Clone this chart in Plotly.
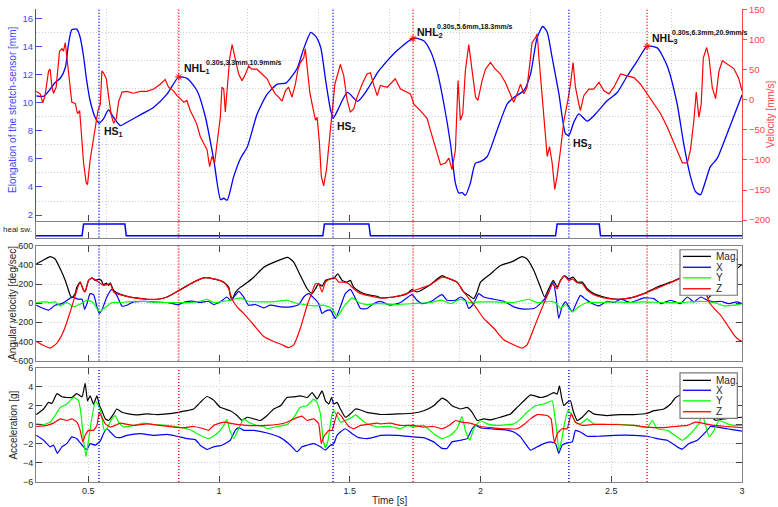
import plotly.graph_objects as go
import numpy as np

# ---------------- data ----------------
t_elong = [0.301,0.329,0.354,0.373,0.393,0.412,0.424,0.437,0.456,0.468,0.481,0.494,0.507,0.526,0.541,0.558,0.577,0.596,0.622,0.648,0.699,0.750,0.801,0.846,0.878,0.916,0.948,0.980,1.006,1.018,1.031,1.056,1.082,1.108,1.146,1.184,1.223,1.255,1.280,1.300,1.325,1.351,1.370,1.389,1.408,1.427,1.437,1.453,1.491,1.530,1.568,1.606,
           1.617,1.681,1.745,1.783,1.809,1.834,1.860,1.885,1.904,1.917,1.930,1.942,1.961,1.980,1.999,2.025,2.063,2.102,2.127,2.165,2.191,2.216,2.238,2.255,2.274,2.300,2.325,2.338,2.357,2.376,2.408,2.446,2.484,2.523,2.561,2.599,2.637,2.676,2.714,2.752,2.777,2.803,2.822,2.841,2.860,2.879,2.905,2.943,2.982,3.000]
elong_mm = [10.48,10.45,10.95,11.43,11.73,12.48,14.12,15.18,15.22,14.7,13.4,11.54,10.13,8.96,8.54,8.84,9.48,8.96,8.37,8.6,9.13,9.67,10.6,11.82,11.72,10.84,8.96,5.91,3.1,3.2,3.06,4.74,6.03,6.85,9.2,10.6,11.31,11.38,11.9,12.48,13.89,14.99,14.7,13.9,11.54,9.43,8.91,9.43,10.72,10.09,10.95,12.13,
            12.4,13.7,14.59,14.4,13.65,12.24,9.9,7.09,4.27,3.57,3.6,3.4,4.27,5.68,5.8,6.15,8.02,9.9,10.37,10.84,12.01,14.59,15.41,15.0,13.19,10.6,7.79,7.67,8.61,9.2,8.68,9.32,10.13,10.72,11.89,12.95,14.0,13.89,12.6,9.9,7.08,4.74,3.68,3.45,4.39,5.45,6.03,7.79,9.67,10.55]

t_vel = [0.301,0.316,0.326,0.335,0.348,0.354,0.361,0.367,0.377,0.390,0.399,0.405,0.412,0.418,0.428,0.437,0.450,0.459,0.467,0.473,0.482,0.492,0.497,0.507,0.518,0.527,0.537,0.546,0.552,0.558,0.569,0.578,0.588,0.597,0.607,0.616,0.629,0.648,0.673,0.699,0.724,0.750,0.775,0.794,0.807,0.826,0.839,0.852,0.865,0.877,0.890,0.903,0.916,0.928,0.941,0.954,0.964,0.973,0.983,0.992,0.999,1.005,1.011,1.018,1.024,1.030,1.041,1.050,1.062,1.075,1.088,1.101,1.113,1.126,1.145,1.171,1.184,1.196,1.215,1.228,1.241,1.254,1.266,1.279,1.292,1.302,1.311,1.324,1.330,1.337,1.347,1.356,1.369,1.375,1.384,1.391,1.400,1.411,1.420,1.432,1.443,1.454,1.464,1.477,1.490,1.502,1.515,1.528,1.547,1.566,1.579,1.592,1.605,
         1.617,1.643,1.674,1.694,1.732,1.745,1.770,1.796,1.808,1.827,1.847,1.866,1.879,1.891,1.904,1.914,1.923,1.932,1.942,1.955,1.968,1.981,1.990,2.006,2.019,2.038,2.057,2.076,2.095,2.115,2.127,2.140,2.153,2.166,2.178,2.189,2.197,2.210,2.217,2.223,2.232,2.242,2.255,2.264,2.274,2.284,2.293,2.306,2.319,2.334,2.344,2.354,2.363,2.376,2.382,2.395,2.414,2.433,2.453,2.472,2.491,2.510,2.536,2.561,2.587,2.612,2.638,2.663,2.689,2.714,2.740,2.759,2.772,2.791,2.803,2.816,2.825,2.835,2.844,2.852,2.865,2.874,2.886,2.899,2.912,2.925,2.944,2.969,2.988,3.000]
vel_mms = [14,10,-5,8,48,51,21,11,21,81,85,81,95,72,26,-4,-6,-23,-18,-61,-105,-138,-141,-100,-72,-45,-18,-7,48,45,35,4.5,-26,-39,-31,-3,13,14,11,14,14,18,26,34,21,15,7,2,-4,-1,-18,-29,-42,-61,-72,-83,-111,-94,-105,-72,-50,-29,21,18,-20,15,70,92,70,43,32,43,56,51,51,40,35,24,10,4.5,-2,15,21,4.5,26,51,62,70,85,54,13,-7,-34,-29,-72,-127,-143,-116,-78,-29,26,43,59,40,-1,-20,-15,4.5,26,43,45,24,7,
           24,21,35,18,10,-7,-18,-31,-50,-78,-108,-105,-97,-116,-83,32,-34,-23,48,92,48,4.5,-1,32,51,62,51,43,29,7,-4,10,26,10,21,62,95,103,110,72,21,-34,-94,-78,-105,-149,-127,-83,-34,-1,26,62,21,-7,-18,7,18,18,29,15,10,21,43,40,37,26,10,-7,-23,-45,-72,-94,-105,-105,-83,-34,13,-29,-7,70,87,70,21,2,48,65,59,52,35,15]

t_heel = [0.300,0.476,0.482,0.640,0.645,1.397,1.403,1.573,1.579,2.287,2.293,2.454,2.459,3.000]
heel_sw = [0,0,1,1,0,0,1,1,0,0,1,1,0,0]

hs_times = [0.541, 1.436, 2.338]
nhl_times = [0.846, 1.742, 2.637]
hs_names = ["HS<sub>1</sub>", "HS<sub>2</sub>", "HS<sub>3</sub>"]
nhl_names = ["NHL<sub>1</sub>", "NHL<sub>2</sub>", "NHL<sub>3</sub>"]
nhl_info = ["0.30s,3.3mm,10.9mm/s", "0.30s,5.6mm,18.3mm/s", "0.30s,6.3mm,20.9mm/s"]

# angular velocity [deg/sec]
t_gm = [0.301,0.329,0.354,0.373,0.393,0.412,0.431,0.437,0.450,0.456,0.469,0.482,0.488,0.501,0.514,0.527,0.539,0.550,0.558,0.569,0.578,0.584,0.597,0.616,0.635,0.660,0.686,0.724,0.763,0.801,0.847,0.903,0.941,0.979,1.018,1.037,1.043,1.050,1.062,1.081,1.101,1.133,1.171,1.209,1.263,1.286,1.311,1.337,1.356,1.369,1.381,1.394,1.407,1.426,1.439,1.454,1.471,1.490,1.502,1.515,1.541,1.566,1.605,
        1.617,1.668,1.719,1.738,1.757,1.808,1.853,1.872,1.910,1.936,1.955,1.974,1.987,2.000,2.038,2.076,2.121,2.159,2.178,2.204,2.229,2.245,2.261,2.278,2.293,2.306,2.321,2.338,2.354,2.370,2.389,2.408,2.433,2.472,2.523,2.574,2.625,2.676,2.727,2.765,2.810,2.842,2.861,2.870,2.886,2.918,2.950,2.976,3.000]
gyro_mag = [410,451,486,462,358,238,82,55,100,168,220,134,124,238,265,238,248,238,193,210,186,213,134,100,82,65,55,41,41,65,134,220,265,255,220,168,80,35,110,165,203,272,376,427,479,427,289,151,100,151,203,179,238,255,262,306,238,220,238,168,117,89,72,
            55,65,100,141,117,193,289,265,220,117,82,48,117,220,306,393,434,486,462,341,169,65,151,238,169,238,289,255,272,220,220,151,100,65,41,55,100,169,220,262,295,250,130,50,100,190,280,350,405]

t_gx = [0.301,0.329,0.348,0.373,0.399,0.425,0.437,0.463,0.476,0.486,0.495,0.507,0.520,0.533,0.542,0.552,0.571,0.590,0.609,0.629,0.648,0.673,0.712,0.750,0.801,0.845,0.871,0.903,0.928,0.960,0.979,1.005,1.030,1.043,1.062,1.075,1.094,1.113,1.139,1.171,1.196,1.235,1.273,1.305,1.324,1.343,1.362,1.381,1.394,1.407,1.426,1.445,1.464,1.483,1.502,1.522,1.541,1.566,1.592,
        1.617,1.655,1.694,1.738,1.757,1.776,1.808,1.853,1.872,1.904,1.923,1.942,1.955,1.974,1.993,2.012,2.051,2.089,2.127,2.166,2.204,2.229,2.255,2.278,2.289,2.299,2.312,2.325,2.338,2.351,2.363,2.382,2.402,2.427,2.453,2.484,2.510,2.536,2.574,2.625,2.663,2.689,2.727,2.765,2.791,2.816,2.842,2.867,2.893,2.918,2.950,2.982,3.000]
gyro_x = [-21,-55,-72,-21,-4,41,65,41,41,-65,-4,100,89,-38,-107,-72,65,144,82,-31,-21,14,20,14,7,-14,14,20,7,20,-14,14,65,31,82,124,65,-21,-14,-48,-21,-38,-38,-14,65,100,55,-4,-107,-83,-72,-159,-38,100,144,48,-55,-55,-4,
          20,-21,7,89,31,-4,14,89,31,31,65,31,-55,-4,100,65,41,20,-38,-62,-55,-4,82,220,65,-159,-38,14,-38,-90,-21,82,41,-4,-28,20,7,41,7,55,48,-4,31,-4,65,14,65,31,14,20,-4,14,-4]

t_gy = [0.301,0.329,0.354,0.373,0.393,0.418,0.444,0.469,0.495,0.514,0.527,0.542,0.552,0.571,0.590,0.622,0.673,0.737,0.801,0.852,0.890,0.928,0.954,0.979,1.005,1.043,1.081,1.113,1.171,1.222,1.260,1.286,1.324,1.362,1.400,1.432,1.451,1.477,1.509,1.534,1.566,1.605,
        1.617,1.681,1.745,1.808,1.853,1.885,1.923,1.955,2.000,2.051,2.127,2.185,2.217,2.268,2.287,2.306,2.325,2.351,2.376,2.408,2.459,2.510,2.561,2.625,2.689,2.765,2.842,2.893,2.931,2.969,3.000]
gyro_y = [7,14,7,14,-28,7,-38,-10,31,14,-28,-90,-72,-31,7,7,20,14,7,7,7,20,41,7,14,31,55,20,14,20,31,7,-14,-28,-21,-55,-141,-38,55,7,-14,-4,
          -4,-14,-4,7,31,-4,41,7,14,14,7,41,7,20,7,-55,-14,-90,-38,7,7,14,7,14,7,7,20,7,-28,-21,-4]

t_gz = [0.301,0.329,0.354,0.380,0.405,0.431,0.450,0.469,0.482,0.488,0.501,0.514,0.539,0.558,0.584,0.597,0.622,0.673,0.724,0.763,0.801,0.847,0.890,0.941,0.979,1.018,1.037,1.050,1.069,1.094,1.133,1.171,1.209,1.241,1.266,1.286,1.311,1.337,1.356,1.369,1.381,1.394,1.407,1.426,1.445,1.458,1.477,1.496,1.515,1.541,1.579,
        1.617,1.668,1.719,1.738,1.808,1.853,1.872,1.910,1.936,1.961,1.981,2.012,2.051,2.089,2.127,2.159,2.178,2.204,2.229,2.245,2.261,2.274,2.293,2.306,2.321,2.338,2.351,2.370,2.389,2.408,2.433,2.472,2.523,2.574,2.625,2.676,2.727,2.765,2.803,2.835,2.854,2.874,2.893,2.918,2.944,2.969,2.988,3.000]
gyro_z = [-401,-442,-469,-417,-297,-90,82,220,134,117,238,262,220,186,203,117,89,55,41,41,65,134,203,265,255,220,151,41,-38,-107,-228,-348,-400,-435,-465,-435,-262,-21,117,203,203,117,220,255,262,220,220,203,151,100,75,
          55,65,100,124,193,272,265,220,117,31,-38,-159,-262,-383,-435,-469,-435,-262,-90,14,117,203,151,238,282,238,255,213,203,134,89,55,41,55,100,158,213,262,290,280,200,14,-55,-124,-228,-331,-383,-400]

# acceleration [g]
t_am = [0.301,0.329,0.348,0.361,0.380,0.399,0.418,0.437,0.456,0.476,0.488,0.497,0.507,0.520,0.533,0.543,0.552,0.565,0.578,0.597,0.609,0.629,0.654,0.686,0.724,0.763,0.801,0.845,0.877,0.903,0.928,0.954,0.979,1.005,1.043,1.069,1.088,1.107,1.133,1.158,1.184,1.209,1.235,1.260,1.286,1.311,1.337,1.356,1.375,1.394,1.407,1.420,1.430,1.439,1.451,1.464,1.483,1.502,1.522,1.541,1.566,1.605,
        1.617,1.681,1.741,1.783,1.821,1.853,1.872,1.891,1.923,1.949,1.968,1.987,2.012,2.038,2.076,2.115,2.140,2.166,2.191,2.229,2.255,2.280,2.293,2.302,2.310,2.319,2.331,2.344,2.354,2.370,2.389,2.414,2.433,2.484,2.536,2.587,2.638,2.663,2.701,2.727,2.746,2.778,2.816,2.848,2.880,2.899,2.931,2.969,3.000]
acc_mag = [1.09,1.68,2.37,2.27,3.3,2.96,2.89,2.89,3.3,2.96,4.38,2.54,3.06,2.2,3.06,2.02,1.5,0.64,0.47,1.16,1.68,1.33,1.16,1.06,1.16,1.09,1.16,1.33,1.5,1.68,2.37,2.99,2.61,1.85,1.5,0.99,0.47,0.81,0.64,0.47,0.99,1.68,2.02,2.89,2.96,3.06,2.89,3.41,2.72,3.58,2.54,2.2,2.89,2.2,2.37,1.68,0.81,1.16,1.68,1.57,1.33,1.16,
           1.1,1.16,1.23,1.5,2.02,2.82,2.54,2.02,1.68,1.85,1.33,0.47,0.64,0.54,0.81,1.16,1.85,2.54,3.17,2.89,3.06,3.41,3.24,4.1,2.89,2.02,2.37,2.54,1.5,0.47,0.81,1.5,1.16,0.99,1.09,1.09,1.23,1.5,1.68,2.2,2.89,3.3,2.6,1.6,0.9,0.5,0.64,0.75,0.81]

t_ax = [0.301,0.329,0.354,0.367,0.382,0.399,0.418,0.437,0.456,0.482,0.495,0.507,0.527,0.546,0.558,0.571,0.584,0.603,0.622,0.648,0.699,0.750,0.801,0.839,0.877,0.909,0.928,0.954,0.979,1.011,1.043,1.062,1.075,1.094,1.133,1.184,1.235,1.273,1.298,1.317,1.337,1.362,1.388,1.407,1.426,1.439,1.451,1.464,1.483,1.509,1.534,1.566,1.605,
        1.617,1.681,1.745,1.783,1.821,1.853,1.872,1.891,1.923,1.949,1.968,1.981,2.000,2.038,2.089,2.127,2.153,2.191,2.217,2.242,2.268,2.287,2.299,2.312,2.331,2.351,2.363,2.382,2.408,2.446,2.510,2.587,2.638,2.676,2.714,2.752,2.771,2.797,2.829,2.861,2.880,2.905,2.944,2.982,3.000]
acc_x = [-1.09,-1.61,-2.3,-2.13,-2.99,-2.3,-1.96,-1.26,-1.44,-2.3,-2.58,-1.96,-2.13,-1.68,-0.92,-0.4,-0.74,-1.26,-1.33,-1.09,-0.92,-1.09,-0.99,-1.19,-1.44,-1.54,-2.13,-2.58,-2.3,-2.13,-1.61,-0.57,-0.29,-0.57,-0.57,-0.85,-1.33,-2.13,-2.82,-2.3,-2.13,-1.96,-2.3,-2.65,-2.13,-1.96,-1.09,-0.74,-0.4,-0.92,-1.33,-1.44,-1.2,
         -1.1,-1.09,-1.26,-1.33,-1.78,-2.47,-2.47,-1.78,-1.61,-1.44,-0.4,-0.05,-0.29,-0.4,-0.5,-0.74,-1.26,-2.65,-2.3,-1.96,-1.78,-1.96,-2.99,-2.13,-1.89,-1.78,-0.57,-0.74,-1.19,-1.19,-1.09,-1.09,-1.19,-1.44,-1.61,-2.3,-2.54,-1.96,-1.61,-0.74,-0.16,-0.22,-0.4,-0.57,-0.64]

t_ay = [0.301,0.329,0.354,0.373,0.393,0.418,0.444,0.463,0.472,0.482,0.491,0.501,0.514,0.527,0.539,0.550,0.561,0.571,0.590,0.603,0.616,0.635,0.673,0.712,0.750,0.801,0.845,0.890,0.928,0.960,0.992,1.018,1.030,1.041,1.056,1.075,1.094,1.113,1.145,1.171,1.184,1.222,1.260,1.286,1.311,1.337,1.362,1.375,1.388,1.398,1.407,1.417,1.430,1.439,1.451,1.464,1.483,1.509,1.522,1.541,1.566,1.605,
        1.617,1.655,1.694,1.719,1.745,1.783,1.821,1.853,1.885,1.910,1.929,1.942,1.959,1.974,2.000,2.025,2.063,2.127,2.153,2.178,2.210,2.242,2.274,2.283,2.293,2.299,2.310,2.321,2.334,2.347,2.363,2.382,2.408,2.433,2.484,2.536,2.587,2.638,2.657,2.676,2.714,2.752,2.771,2.803,2.835,2.848,2.874,2.893,2.912,2.944,2.969,3.000]
acc_y = [0.12,0.05,0.29,0.99,1.85,2.2,2.89,2.54,1.16,-1.61,-3.34,-1.61,0.81,2.47,2.02,1.16,-0.57,-0.4,0.64,0.99,0.29,-0.22,-0.05,0.19,0.05,-0.05,-0.22,-0.5,-1.09,-1.44,-0.92,-0.05,0.6,-0.57,-1.44,-0.4,0.64,0.29,-0.05,-0.16,-0.4,-0.16,0.05,0.81,1.85,2.02,2.72,2.37,1.16,-1.61,-2.4,-1.61,0.81,1.5,0.99,0.29,0.47,0.81,1.06,0.64,0.12,-0.22,
         -0.2,-0.16,-0.4,-0.05,-0.22,-0.05,-0.92,-1.44,-1.09,-0.4,0.88,-0.57,-1.61,-0.4,0.47,0.12,-0.05,0.12,0.64,1.33,2.02,2.2,2.54,1.16,-0.92,-2.65,-1.61,0.12,1.5,1.16,0.29,0.12,0.64,0.12,0.05,0.05,-0.05,-0.29,0.47,-0.4,-0.57,-1.26,-1.61,-0.92,0.12,1.16,-1.26,-0.57,0.47,0.12,-0.05,-0.05]

t_az = [0.301,0.342,0.367,0.393,0.418,0.437,0.456,0.469,0.479,0.488,0.501,0.520,0.533,0.542,0.552,0.565,0.584,0.603,0.622,0.673,0.724,0.775,0.826,0.865,0.903,0.941,0.960,0.979,1.018,1.056,1.107,1.184,1.222,1.260,1.286,1.317,1.337,1.362,1.381,1.391,1.400,1.420,1.432,1.445,1.454,1.471,1.496,1.515,1.541,1.566,1.605,
        1.617,1.655,1.694,1.741,1.783,1.821,1.853,1.885,1.904,1.929,1.961,2.000,2.038,2.089,2.140,2.166,2.191,2.217,2.255,2.270,2.277,2.283,2.293,2.312,2.331,2.347,2.363,2.389,2.433,2.510,2.587,2.638,2.689,2.740,2.791,2.822,2.861,2.893,2.944,3.000]
acc_z = [-0.16,-0.05,0.19,0.64,0.47,0.64,0.29,-0.57,-1.78,-1.09,-0.57,-0.57,-0.05,1.33,0.81,0.12,-0.22,-0.05,0.19,-0.05,0.12,-0.05,-0.22,-0.29,-0.16,-0.4,-0.57,-0.05,0.29,0.12,-0.05,-0.05,0.05,0.29,0.64,0.92,0.47,0.64,0.12,-1.96,-1.26,-0.57,-0.57,0.64,1.33,0.81,-0.16,-0.4,-0.05,0.05,0.19,
         0.12,0.19,-0.05,-0.05,-0.22,-0.16,-0.4,0.05,0.47,0.29,0.19,-0.16,-0.29,-0.4,-0.4,0.05,0.64,1.09,0.99,0.64,-0.92,-1.89,-0.92,-0.4,-0.4,1.16,0.29,-0.05,0.05,0.05,-0.05,-0.22,-0.29,-0.16,-0.05,0.29,0.12,-0.05,-0.16,-0.29]

series_names = ["Mag.", "X", "Y", "Z"]
series_colors = ["#000000", "#0000ff", "#00ff00", "#ff0000"]

# ---------------- figure ----------------
W, H = 778, 507
ML, MR, MT, MB = 36, 36, 4, 25
PW, PH = W - ML - MR, H - MT - MB

def PX(x):
    return (x - ML) / PW

def PY(y):
    return (H - MB - y) / PH

FONT = "Liberation Sans, Arial, sans-serif"
BLUE_T = "rgb(70,70,255)"
RED_T = "rgb(255,70,70)"
GRID = "rgb(205,205,205)"
FRAME = "rgb(130,130,130)"
DOTS = "1px,2px"

fig = go.Figure()

fig.add_trace(go.Scatter(x=t_elong, y=elong_mm, mode="lines", line=dict(color="#0000ff", width=1.3, shape="spline", smoothing=0.6),
                         xaxis="x", yaxis="y", showlegend=False))
fig.add_trace(go.Scatter(x=t_vel, y=vel_mms, mode="lines", line=dict(color="#ff0000", width=1.2),
                         xaxis="x", yaxis="y2", showlegend=False))
nhl_y = np.interp(nhl_times, t_elong, elong_mm)
fig.add_trace(go.Scatter(x=nhl_times, y=nhl_y, mode="markers",
                         marker=dict(symbol="asterisk-open", size=6, color="#ff0000", line=dict(color="#ff0000", width=1)),
                         xaxis="x", yaxis="y", showlegend=False))

fig.add_trace(go.Scatter(x=t_heel, y=heel_sw, mode="lines", line=dict(color="#0000ff", width=1.5),
                         xaxis="x2", yaxis="y3", showlegend=False))

gyro = [(t_gm, gyro_mag), (t_gx, gyro_x), (t_gy, gyro_y), (t_gz, gyro_z)]
for (tt, vv), c in zip(gyro, series_colors):
    fig.add_trace(go.Scatter(x=tt, y=vv, mode="lines", line=dict(color=c, width=1.2, shape="spline", smoothing=0.5),
                             xaxis="x3", yaxis="y4", showlegend=False))
acc = [(t_am, acc_mag), (t_ax, acc_x), (t_ay, acc_y), (t_az, acc_z)]
for (tt, vv), c in zip(acc, series_colors):
    fig.add_trace(go.Scatter(x=tt, y=vv, mode="lines", line=dict(color=c, width=1.2, shape="spline", smoothing=0.4),
                             xaxis="x4", yaxis="y5", showlegend=False))

odd_grid_x = [0.57 + 0.27 * k for k in range(9)]
xticks = [0.5, 1, 1.5, 2, 2.5, 3]
tickfont = dict(family=FONT, size=9, color="#262626")

def xax(anchor, labels=False, weird_grid=True, mirror=False):
    d = dict(anchor=anchor, domain=[0, 1], range=[0.3, 3], tickvals=xticks, ticks="inside", ticklen=6,
             tickcolor="#444", showline=True, linecolor=FRAME, linewidth=1, zeroline=False,
             showticklabels=labels, tickfont=tickfont, mirror=mirror)
    if weird_grid:
        d["showgrid"] = False
        d["minor"] = dict(tickvals=odd_grid_x, showgrid=True, gridcolor=GRID, griddash=DOTS, gridwidth=1, ticklen=0)
    else:
        d["showgrid"] = True
        d["gridcolor"] = GRID
        d["griddash"] = DOTS
    return d

top_lo, top_hi = PY(218), 1.0
fig.update_layout(
    width=W, height=H, margin=dict(l=ML, r=MR, t=MT, b=MB),
    paper_bgcolor="white", plot_bgcolor="white",
    font=dict(family=FONT, size=10, color="#262626"),
    xaxis=xax("y"),
    yaxis=dict(domain=[top_lo, top_hi], range=[1.599, 16.654], tickvals=list(range(2, 17, 2)),
               ticks="inside", ticklen=6, tickcolor=BLUE_T, showline=True, linecolor=BLUE_T, zeroline=False,
               tickfont=dict(family=FONT, size=9.5, color=BLUE_T), showgrid=False,
               minor=dict(tickvals=list(range(3, 17, 2)), showgrid=True, gridcolor=GRID, griddash=DOTS, ticklen=0)),
    yaxis2=dict(overlaying="y", side="right", anchor="x", range=[-201.15, 151.15], tickvals=list(range(-200, 151, 50)),
                ticks="outside", ticklen=4, tickcolor=RED_T, showline=True, linecolor=RED_T, zeroline=False,
                showgrid=False, tickfont=dict(family=FONT, size=9.5, color=RED_T)),
    xaxis2=xax("y3", mirror=True),
    yaxis3=dict(domain=[PY(235), PY(219)], range=[-0.15, 1.2], showticklabels=False, ticks="", showgrid=False,
                zeroline=False, showline=True, linecolor=FRAME, mirror=True),
    xaxis3=xax("y4", mirror="ticks"),
    yaxis4=dict(domain=[PY(359.3), PY(243.3)], range=[-600, 600], tickvals=list(range(-600, 601, 200)),
                ticks="inside", ticklen=6, tickcolor="#444", showline=True, linecolor=FRAME, mirror="ticks",
                zeroline=False, showgrid=True, gridcolor=GRID, griddash=DOTS, tickfont=tickfont),
    xaxis4=xax("y5", labels=True, weird_grid=False, mirror="ticks"),
    yaxis5=dict(domain=[0, PY(366.7)], range=[-6, 6], tickvals=list(range(-6, 7, 2)),
                ticks="inside", ticklen=6, tickcolor="#444", showline=True, linecolor=FRAME, mirror="ticks",
                zeroline=False, showgrid=True, gridcolor=GRID, griddash=DOTS, tickfont=tickfont),
)

shapes = []
panels = [("x", "y domain"), ("x2", "y3 domain"), ("x3", "y4 domain"), ("x4", "y5 domain")]
for xr, yr in panels:
    for t in hs_times:
        shapes.append(dict(type="line", xref=xr, yref=yr, x0=t, x1=t, y0=0, y1=1,
                           line=dict(color="#0000ff", width=1.4, dash=DOTS), layer="above"))
    for t in nhl_times:
        shapes.append(dict(type="line", xref=xr, yref=yr, x0=t, x1=t, y0=0, y1=1,
                           line=dict(color="#ff0000", width=1.4, dash=DOTS), layer="above"))

annotations = []
# manual legends
for row_ys, box in [([254, 265, 275.7, 286.7], (247.3, 293.3)), ([379.3, 389.3, 400, 411], (371.7, 417.7))]:
    shapes.append(dict(type="rect", xref="paper", yref="paper", x0=PX(680), x1=PX(737.3), y0=PY(box[1]), y1=PY(box[0]),
                       line=dict(color="rgb(120,120,120)", width=1.2), fillcolor="white", layer="above"))
    for name, c, yy in zip(series_names, series_colors, row_ys):
        shapes.append(dict(type="line", xref="paper", yref="paper", x0=PX(683), x1=PX(711), y0=PY(yy), y1=PY(yy),
                           line=dict(color=c, width=1.3), layer="above"))
        annotations.append(dict(xref="paper", yref="paper", x=PX(714), y=PY(yy), text=name, showarrow=False,
                                xanchor="left", yanchor="middle", font=dict(family=FONT, size=10, color="#262626")))

# event labels
hs_pos = [(101.7, 126), (335, 121.7), (570.7, 138.3)]
for name, (px, py) in zip(hs_names, hs_pos):
    annotations.append(dict(xref="paper", yref="paper", x=PX(px), y=PY(py + 2), text="<b>" + name + "</b>",
                            showarrow=False, xanchor="left", yanchor="middle",
                            font=dict(family=FONT, size=10.5, color="#111")))
nhl_pos = [(181.5, 63, 203.5, 59), (415, 26, 435, 21.7), (649.5, 32.5, 669.5, 28)]
for name, info, (px, py, sx, sy) in zip(nhl_names, nhl_info, nhl_pos):
    annotations.append(dict(xref="paper", yref="paper", x=PX(px), y=PY(py + 2), text="<b>" + name + "</b>",
                            showarrow=False, xanchor="left", yanchor="middle",
                            font=dict(family=FONT, size=10.5, color="#111")))
    annotations.append(dict(xref="paper", yref="paper", x=PX(sx), y=PY(sy), text="<b>" + info + "</b>",
                            showarrow=False, xanchor="left", yanchor="middle",
                            font=dict(family=FONT, size=7, color="#111")))

# axis titles
annotations += [
    dict(xref="paper", yref="paper", x=PX(13), y=PY(106), text="Elongation of the stretch-sensor [mm]", textangle=-90,
         showarrow=False, xanchor="center", yanchor="middle", font=dict(family=FONT, size=10, color=BLUE_T)),
    dict(xref="paper", yref="paper", x=PX(771), y=PY(110), text="Velocity [mm/s]", textangle=-90,
         showarrow=False, xanchor="center", yanchor="middle", font=dict(family=FONT, size=10, color=RED_T)),
    dict(xref="paper", yref="paper", x=PX(33.5), y=PY(226.5), text="heal sw.",
         showarrow=False, xanchor="right", yanchor="middle", font=dict(family=FONT, size=8, color="#262626")),
    dict(xref="paper", yref="paper", x=PX(13), y=PY(301), text="Angular velocity [deg/sec]", textangle=-90,
         showarrow=False, xanchor="center", yanchor="middle", font=dict(family=FONT, size=10, color="#262626")),
    dict(xref="paper", yref="paper", x=PX(14), y=PY(425), text="Acceleration [g]", textangle=-90,
         showarrow=False, xanchor="center", yanchor="middle", font=dict(family=FONT, size=10, color="#262626")),
    dict(xref="paper", yref="paper", x=PX(389), y=PY(500.5), text="Time [s]",
         showarrow=False, xanchor="center", yanchor="middle", font=dict(family=FONT, size=10, color="#262626")),
]

fig.update_layout(shapes=shapes, annotations=annotations)
fig.write_html("out.html", config={"displayModeBar": False},
               post_script="document.body.style.margin='0';document.body.style.overflow='hidden';")
